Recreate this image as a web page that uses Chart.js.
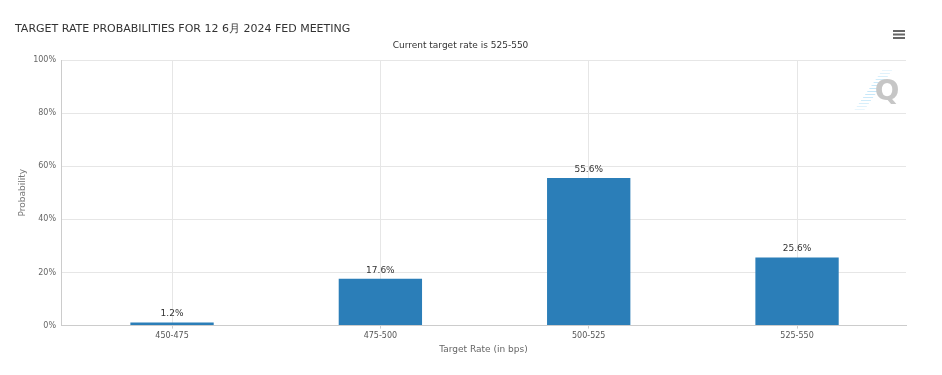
<!DOCTYPE html>
<html>
<head>
<meta charset="utf-8">
<script src="https://cdn.jsdelivr.net/npm/chart.js@4"></script>
<style>
  html, body { margin: 0; padding: 0; background: #fff; }
  #wrap { position: relative; width: 942px; height: 375px; }
</style>
</head>
<body>
<div id="wrap"><canvas id="rateChart" width="942" height="375"></canvas></div>
<script>
// chart data
const rateRanges = ['450-475', '475-500', '500-525', '525-550'];
const probabilities = [1.2, 17.6, 55.6, 25.6];
const yTicks = [0, 20, 40, 60, 80, 100];

const FONT = '"DejaVu Sans", Verdana, sans-serif';

// value labels above each bar
const barLabels = {
    id: 'barLabels',
    afterDatasetsDraw(chart) {
        const ctx = chart.ctx;
        const meta = chart.getDatasetMeta(0);
        ctx.save();
        ctx.font = '9px ' + FONT;
        ctx.fillStyle = '#333';
        ctx.textAlign = 'center';
        ctx.textBaseline = 'bottom';
        meta.data.forEach((bar, i) => {
            ctx.fillText(probabilities[i].toFixed(1) + '%', bar.x, bar.y - 4);
        });
        ctx.restore();
    }
};

// menu icon + watermark
const decorations = {
    id: 'decorations',
    afterDraw(chart) {
        const ctx = chart.ctx;
        ctx.save();
        // hamburger
        ctx.fillStyle = '#666';
        for (let k = 0; k < 3; k++) {
            ctx.fillRect(893, 30 + k * 3.5, 12, 2);
        }
        // watermark stripes
        ctx.lineWidth = 1;
        for (let k = 0; k < 14; k++) {
            const y = 70 + k * 3;
            const x = 892 - k * 2.1;
            const a = 0.15 + 0.25 * Math.sin(Math.PI * k / 13);
            ctx.strokeStyle = 'rgba(110,195,240,' + a.toFixed(2) + ')';
            ctx.beginPath();
            ctx.moveTo(x - 10, y + 0.5);
            ctx.lineTo(x, y + 0.5);
            ctx.stroke();
        }
        // Q
        ctx.fillStyle = '#c6c6c6';
        ctx.font = 'bold 29px ' + FONT;
        ctx.textAlign = 'center';
        ctx.textBaseline = 'middle';
        ctx.fillText('Q', 887, 92);
        ctx.restore();
    }
};

const ctx = document.getElementById('rateChart').getContext('2d');
const chart = new Chart(ctx, {
    type: 'bar',
    data: {
        labels: rateRanges,
        datasets: [{
            data: probabilities,
            backgroundColor: '#2b7eb8',
            borderWidth: 0,
            categoryPercentage: 1,
            barPercentage: 0.4
        }]
    },
    options: {
        responsive: false,
        animation: false,
        layout: { padding: { left: 15, right: 36, top: 0, bottom: 20 } },
        scales: {
            x: {
                // small inset on both ends of the category axis, like the original
                afterBuildTicks(axis) {
                    axis._startValue = -0.533;
                    axis._valueRange = 4.056;
                },
                grid: { offset: false, color: '#e6e6e6', drawTicks: true, tickLength: 3, tickColor: '#ccc' },
                border: { color: '#ccc' },
                ticks: { color: '#555', font: { family: FONT, size: 8 }, padding: 3, maxRotation: 0 },
                title: { display: true, text: 'Target Rate (in bps)', color: '#666', font: { family: FONT, size: 9 }, padding: { top: 0, bottom: 0 } }
            },
            y: {
                min: 0,
                max: 100,
                afterBuildTicks(axis) { axis.ticks = yTicks.map(v => ({ value: v })); },
                afterFit(axis) { axis.width = 46; },
                grid: { color: '#e6e6e6', drawTicks: false },
                border: { color: '#ccc' },
                ticks: { color: '#666', font: { family: FONT, size: 8 }, padding: 5, callback: v => v + '%' },
                title: { display: true, text: 'Probability', color: '#777', font: { family: FONT, size: 9 }, padding: { top: 2, bottom: 0 } }
            }
        },
        plugins: {
            legend: { display: false },
            tooltip: { enabled: false },
            title: {
                display: true,
                align: 'start',
                text: 'TARGET RATE PROBABILITIES FOR 12 6月 2024 FED MEETING',
                color: '#333',
                font: { family: FONT, size: 11, weight: 'normal' },
                padding: { top: 23, bottom: 4 }
            },
            subtitle: {
                display: true,
                text: 'Current target rate is 525-550',
                color: '#333',
                font: { family: FONT, size: 9 },
                padding: { top: 0, bottom: 9 }
            }
        }
    },
    plugins: [barLabels, decorations]
});
</script>
</body>
</html>
